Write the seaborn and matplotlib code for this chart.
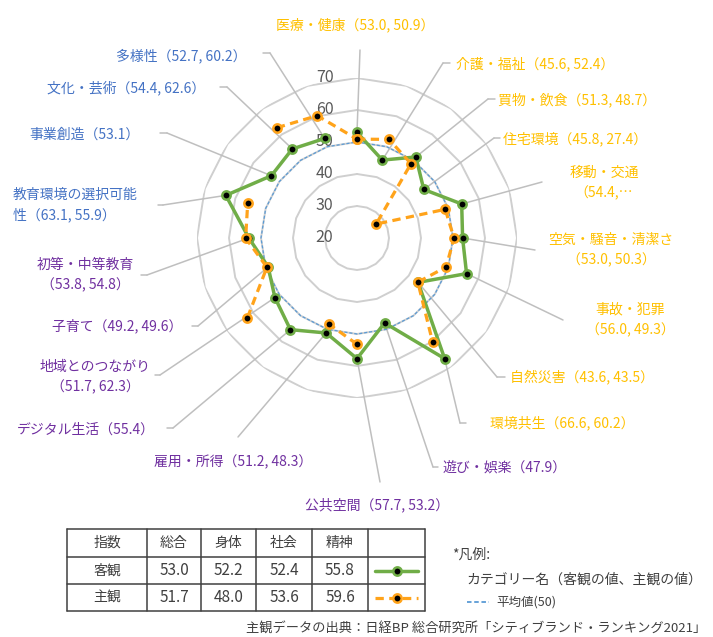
import numpy as np
import matplotlib
matplotlib.use('Agg')
import matplotlib.pyplot as plt
import seaborn as sns

sns.set_theme(style="white")
plt.rcParams['font.family'] = ['Noto Sans CJK JP', 'DejaVu Sans']

# データ (時計回り, 上から)
categories = ['医療・健康', '介護・福祉', '買物・飲食', '住宅環境', '移動・交通',
              '空気・騒音・清潔さ', '事故・犯罪', '自然災害', '環境共生', '遊び・娯楽',
              '公共空間', '雇用・所得', 'デジタル生活', '地域とのつながり', '子育て',
              '初等・中等教育', '教育環境の選択可能性', '事業創造', '文化・芸術', '多様性']
objective = [53.0, 45.6, 51.3, 45.8, 54.4, 53.0, 56.0, 43.6, 66.6, 47.9,
             57.7, 51.2, 55.4, 51.7, 49.2, 53.8, 63.1, 53.1, 54.4, 52.7]
subjective = [50.9, 52.4, 48.7, 27.4, 49.0, 50.3, 49.3, 43.5, 60.2, np.nan,
              53.2, 48.3, np.nan, 62.3, 49.6, 54.8, 55.9, np.nan, 62.6, 60.2]
average = [50] * len(categories)
rings = [30, 40, 50, 60, 70]
r_ticks = [20, 30, 40, 50, 60, 70]

label_texts = ['医療・健康（53.0, 50.9）', '介護・福祉（45.6, 52.4）', '買物・飲食（51.3, 48.7）',
               '住宅環境（45.8, 27.4）', '移動・交通\n（54.4,…', '空気・騒音・清潔さ\n（53.0, 50.3）',
               '事故・犯罪\n（56.0, 49.3）', '自然災害（43.6, 43.5）', '環境共生（66.6, 60.2）',
               '遊び・娯楽（47.9）', '公共空間（57.7, 53.2）', '雇用・所得（51.2, 48.3）',
               'デジタル生活（55.4）', '地域とのつながり\n（51.7, 62.3）', '子育て（49.2, 49.6）',
               '初等・中等教育\n（53.8, 54.8）', '教育環境の選択可能\n性（63.1, 55.9）',
               '事業創造（53.1）', '文化・芸術（54.4, 62.6）', '多様性（52.7, 60.2）']
label_groups = ['orange'] * 9 + ['purple'] * 7 + ['blue'] * 4

table_header = ['指数', '総合', '身体', '社会', '精神', '']
table_rows = ['客観', '主観']
obj_index = [53.0, 52.2, 52.4, 55.8]
subj_index = [51.7, 48.0, 53.6, 59.6]

# 配置 (ピクセル, 上原点)
label_pos = [(355, 25, 'center'), (456, 64, 'left'), (498, 100, 'left'), (503, 139, 'left'),
             (604, 183, 'center'), (611, 250, 'center'), (630, 320, 'center'), (510, 377, 'left'),
             (490, 423, 'left'), (443, 468, 'left'), (377, 505, 'center'), (233, 462, 'center'),
             (155, 430, 'right'), (95, 377, 'center'), (182, 326, 'right'), (85, 275, 'center'),
             (13, 205, 'left'), (140, 135, 'right'), (205, 88, 'right'), (247, 56, 'right')]
leader_elbow = [(360, 50, None), (443, 63, 450), (488, 99, 495), (494, 138, 500),
                (542, 182, None), (535, 250, None), (563, 320, None), (497, 377, 505),
                (460, 423, 466), (433, 467, 438), (380, 482, None), (238, 437, None),
                (173, 428, 167), (160, 375, 155), (198, 326, 192), (147, 275, 141),
                (163, 205, 158), (167, 133, 160), (227, 87, 220), (270, 53, 263)]

c_green = '#70AD47'
c_orange = '#FFA31A'
c_avg = '#5B9BD5'
c_grid = '#CFCFCF'
c_leader = '#BFBFBF'
c_text = '#404040'
text_colors = {'orange': '#FFC000', 'purple': '#7030A0', 'blue': '#4472C4'}

W, H = 713, 637
fig = plt.figure(figsize=(W / 100, H / 100), dpi=100)

ov = fig.add_axes([0, 0, 1, 1])
ov.set_xlim(0, W)
ov.set_ylim(H, 0)
ov.axis('off')

cx, cy, R = 357, 238, 160
ax = fig.add_axes([(cx - R) / W, (H - cy - R) / H, 2 * R / W, 2 * R / H], projection='polar')
ax.set_theta_zero_location('N')
ax.set_theta_direction(-1)
ax.set_ylim(20, 70)
ax.grid(False)
ax.set_xticks([])
ax.set_yticks([])
ax.spines['polar'].set_visible(False)
ax.patch.set_alpha(0)

n = len(categories)
theta = np.linspace(0, 2 * np.pi, n, endpoint=False)
theta_c = np.append(theta, theta[0])

def closed(vals):
    return np.append(vals, vals[0])

for v in rings:
    ax.plot(theta_c, [v] * (n + 1), color=c_grid, lw=1.4, zorder=1)

for v in r_ticks:
    ax.annotate(str(v), xy=(0, v), xytext=(-17, 0), textcoords='offset points',
                ha='right', va='center', fontsize=11.5, color='#595959', zorder=2)

# 引き出し線
for i in range(n):
    ex, ey, tx = leader_elbow[i]
    ax.annotate('', xy=(theta[i], objective[i]), xytext=(ex, ey), textcoords=ov.transData,
                arrowprops=dict(arrowstyle='-', color=c_leader, lw=1.1, shrinkA=0, shrinkB=0),
                annotation_clip=False, zorder=1.5)
    if tx is not None:
        ov.plot([ex, tx], [ey, ey], color=c_leader, lw=1.1)
    x, y, ha = label_pos[i]
    ov.text(x, y, label_texts[i], ha=ha, va='center', fontsize=10, linespacing=1.55,
            color=text_colors[label_groups[i]])

ax.plot(theta_c, closed(average), color=c_avg, lw=0.9, ls=(0, (2.5, 1.5)), zorder=3)
sns.lineplot(x=theta_c, y=closed(objective), sort=False, ax=ax, color=c_green, lw=2.5,
             marker='o', markersize=6, markerfacecolor='black', markeredgecolor=c_green,
             markeredgewidth=1.8, zorder=4)
ax.plot(theta_c, closed(subjective), color=c_orange, lw=2.3, ls=(0, (2.6, 1.7)),
        marker='o', markersize=6, markerfacecolor='black', markeredgecolor=c_orange,
        markeredgewidth=1.8, zorder=5)
ax.set_xlabel('')
ax.set_ylabel('')

# 表
col_x = [67, 147, 201, 256, 312, 368, 425]
row_y = [529, 557, 584, 611]
for x in col_x:
    ov.plot([x, x], [row_y[0], row_y[-1]], color=c_text, lw=1.1)
for y in row_y:
    ov.plot([col_x[0], col_x[-1]], [y, y], color=c_text, lw=1.1)

def cell_center(r, c):
    return (col_x[c] + col_x[c + 1]) / 2, (row_y[r] + row_y[r + 1]) / 2

for c, h in enumerate(table_header):
    x, y = cell_center(0, c)
    ov.text(x, y, h, ha='center', va='center', fontsize=10, color=c_text)
for r, (name, vals) in enumerate(zip(table_rows, [obj_index, subj_index]), start=1):
    x, y = cell_center(r, 0)
    ov.text(x, y, name, ha='center', va='center', fontsize=10, color=c_text)
    for c, v in enumerate(vals, start=1):
        x, y = cell_center(r, c)
        ov.text(x, y, f'{v:.1f}', ha='center', va='center', fontsize=11, color=c_text)

x0, x1 = col_x[5] + 7, col_x[6] - 7
_, y1 = cell_center(1, 5)
_, y2 = cell_center(2, 5)
ov.plot([x0, x1], [y1, y1], color=c_green, lw=2.5)
ov.plot([(x0 + x1) / 2], [y1], 'o', ms=6, mfc='black', mec=c_green, mew=1.8)
ov.plot([x0, x1], [y2, y2], color=c_orange, lw=2.3, ls=(0, (2.6, 1.7)))
ov.plot([(x0 + x1) / 2], [y2], 'o', ms=6, mfc='black', mec=c_orange, mew=1.8)

# 凡例
ov.text(452, 555, '*凡例:', ha='left', va='center', fontsize=10, color=c_text)
ov.text(466, 580, 'カテゴリー名（客観の値、主観の値）', ha='left', va='center', fontsize=10, color=c_text)
ov.plot([467, 489], [602, 602], color=c_avg, lw=1.3, ls=(0, (2.5, 1.5)))
ov.text(496, 602, '平均値(50)', ha='left', va='center', fontsize=9, color=c_text)
ov.text(706, 629, '主観データの出典：日経BP 総合研究所「シティブランド・ランキング2021」',
        ha='right', va='center', fontsize=9.5, color=c_text)

fig.savefig('out.png', dpi=100)
